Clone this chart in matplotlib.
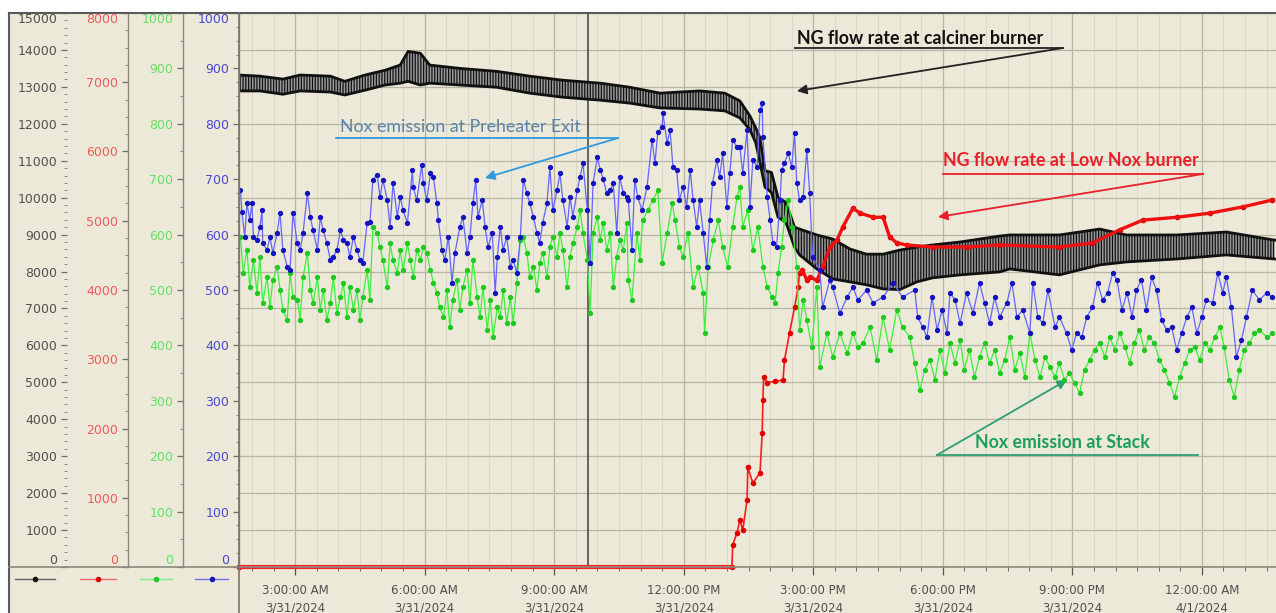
import matplotlib
matplotlib.use("Agg")
import matplotlib.pyplot as plt
from matplotlib.lines import Line2D
from matplotlib.patches import Rectangle
from matplotlib.ticker import MultipleLocator

plt.rcParams['font.family'] = ['DejaVu Sans']
plt.rcParams['hatch.linewidth'] = 0.9

# time axis is minutes since 3/31/2024 00:00
T_START = 102
T_END = 1543
CURSOR_T = 587

# NG flow rate at calciner burner, upper / lower envelope of the oscillating trace
calciner_t = [102, 131, 163, 187, 229, 249, 277, 305, 326, 337, 354, 367, 409, 460, 506, 552,
              604, 645, 687, 742, 777, 798, 812, 820, 826, 833, 842, 851, 862, 874, 881, 905,
              927, 951, 974, 997, 1020, 1044, 1066, 1104, 1159, 1173, 1242, 1298, 1335, 1405,
              1474, 1541]
calciner_hi = [13320, 13290, 13210, 13320, 13290, 13150, 13320, 13450, 13590, 13960, 13910, 13590,
               13500, 13420, 13290, 13180, 13100, 12990, 12830, 12890, 12830, 12620, 12210, 11890,
               11620, 10730, 10680, 10010, 9870, 9200, 9150, 8990, 8880, 8610, 8470, 8470, 8580,
               8660, 8720, 8800, 8960, 8990, 8990, 9150, 8990, 8990, 9070, 8850]
calciner_lo = [12890, 12890, 12800, 12890, 12860, 12780, 12910, 13050, 13100, 13150, 13050, 13100,
               13050, 12990, 12830, 12720, 12640, 12560, 12430, 12400, 12350, 12160, 11840, 11490,
               10950, 10280, 10140, 9470, 9330, 8660, 8450, 8070, 7800, 7720, 7640, 7530, 7510,
               7720, 7830, 7910, 7990, 8070, 7910, 8180, 8260, 8340, 8450, 8340]

# NG flow rate at Low Nox burner
lownox_t = [102, 787, 788, 794, 798, 802, 808, 809, 816, 826, 829, 830, 831, 836, 847, 858, 860,
            867, 874, 879, 881, 885, 891, 895, 905, 913, 923, 933, 941, 955, 965, 983, 997, 1006,
            1016, 1030, 1066, 1113, 1159, 1242, 1288, 1326, 1358, 1405, 1451, 1497, 1538]
lownox_v = [0, 0, 320, 490, 680, 530, 970, 1440, 1210, 1360, 1930, 2410, 2740, 2660, 2680, 2700,
            2990, 3380, 3750, 4040, 4250, 4290, 4140, 4190, 4140, 4330, 4620, 4720, 4910, 5180,
            5110, 5050, 5050, 4770, 4680, 4650, 4620, 4620, 4650, 4620, 4680, 4870, 5010, 5050,
            5110, 5200, 5300]

# Nox emission at Preheater Exit
preheater_t = [104, 106, 110, 113, 117, 120, 122, 127, 131, 134, 135, 141, 145, 149, 155, 159,
               163, 169, 173, 177, 183, 187, 191, 197, 201, 205, 211, 215, 219, 224, 229, 233,
               238, 243, 247, 252, 256, 261, 266, 270, 274, 280, 284, 288, 294, 298, 302, 308,
               312, 316, 322, 326, 330, 336, 343, 344, 349, 356, 358, 363, 368, 372, 377, 379,
               384, 388, 393, 398, 402, 409, 413, 419, 423, 427, 431, 434, 440, 444, 448, 454,
               458, 461, 465, 469, 474, 479, 483, 488, 493, 497, 502, 506, 511, 516, 520, 524,
               530, 534, 538, 544, 548, 552, 558, 562, 566, 572, 576, 580, 586, 590, 594, 600,
               604, 608, 613, 618, 622, 627, 631, 636, 641, 643, 648, 652, 656, 662, 669, 676,
               680, 684, 690, 691, 697, 701, 705, 710, 714, 719, 724, 729, 733, 738, 742, 747,
               752, 756, 760, 766, 770, 774, 780, 784, 788, 794, 798, 802, 808, 812, 816, 822,
               826, 829, 830, 836, 840, 844, 849, 854, 856, 860, 865, 870, 874, 877, 881, 886,
               891, 895, 899, 909, 913, 923, 927, 937, 947, 955, 962, 974, 983, 997, 1011, 1024,
               1041, 1045, 1052, 1058, 1065, 1072, 1079, 1086, 1090, 1097, 1104, 1113, 1122, 1131,
               1138, 1145, 1152, 1159, 1169, 1176, 1183, 1191, 1201, 1205, 1212, 1219, 1226, 1236,
               1242, 1252, 1259, 1266, 1273, 1280, 1288, 1295, 1302, 1309, 1316, 1322, 1329, 1336,
               1343, 1349, 1356, 1363, 1370, 1377, 1384, 1391, 1398, 1405, 1412, 1419, 1426, 1433,
               1440, 1446, 1455, 1462, 1469, 1474, 1481, 1488, 1495, 1502, 1510, 1520, 1530, 1538]
preheater_v = [680, 641, 596, 657, 626, 657, 596, 590, 614, 644, 585, 572, 596, 567, 603, 639,
               572, 542, 536, 639, 585, 572, 603, 675, 632, 608, 572, 632, 608, 585, 554, 560,
               572, 608, 590, 585, 560, 596, 572, 554, 549, 621, 623, 699, 708, 668, 699, 662,
               614, 693, 632, 668, 644, 621, 717, 686, 662, 726, 693, 662, 711, 704, 657, 626,
               572, 554, 596, 513, 567, 614, 632, 567, 596, 657, 699, 632, 662, 614, 578, 603,
               495, 560, 614, 572, 596, 542, 554, 531, 596, 699, 675, 657, 632, 603, 585, 621,
               657, 722, 644, 680, 711, 662, 614, 668, 632, 680, 704, 729, 644, 549, 693, 740,
               717, 700, 675, 680, 693, 603, 704, 675, 668, 662, 572, 699, 668, 644, 686, 771,
               729, 785, 794, 819, 765, 789, 722, 717, 662, 686, 650, 717, 662, 614, 662, 603,
               542, 626, 693, 735, 704, 747, 650, 711, 771, 758, 758, 711, 789, 650, 735, 722,
               825, 838, 776, 668, 626, 585, 578, 662, 717, 729, 747, 722, 783, 693, 662, 668,
               753, 675, 560, 536, 469, 518, 505, 458, 487, 505, 482, 500, 477, 487, 513, 487,
               500, 451, 433, 415, 487, 428, 464, 422, 495, 482, 440, 495, 458, 513,
               477, 440, 487, 451, 477, 513, 451, 464, 422, 513, 451, 440, 500, 433,
               451, 422, 392, 422, 415, 451, 469, 513, 482, 495, 531, 518, 464, 495,
               451, 500, 518, 464, 523, 500, 446, 428, 433, 392, 422, 451, 469, 422,
               451, 482, 477, 531, 495, 523, 469, 379, 410, 451, 500, 482, 495, 487]

# Nox emission at Stack
stack_t = [104, 108, 113, 117, 122, 127, 131, 135, 141, 145, 149, 155, 159, 163, 169, 173, 177,
           183, 187, 191, 197, 201, 205, 211, 215, 219, 224, 229, 233, 238, 243, 247, 252, 256,
           261, 266, 270, 274, 280, 284, 288, 294, 298, 302, 308, 312, 316, 322, 326, 330, 336,
           340, 344, 349, 354, 358, 363, 368, 372, 377, 381, 386, 391, 395, 399, 405, 409, 413,
           419, 423, 427, 433, 437, 441, 447, 451, 455, 461, 465, 469, 474, 479, 483, 488, 493,
           497, 502, 506, 511, 516, 520, 524, 530, 534, 538, 544, 548, 552, 558, 562, 566, 572,
           576, 580, 586, 590, 594, 600, 604, 608, 613, 618, 622, 627, 631, 636, 641, 643, 648,
           655, 659, 663, 670, 677, 684, 690, 697, 704, 708, 714, 719, 726, 733, 740, 747, 749,
           754, 761, 768, 774, 781, 788, 794, 798, 802, 809, 816, 823, 830, 836, 843, 847, 851,
           856, 860, 865, 871, 877, 881, 886, 891, 898, 905, 909, 919, 927, 937, 947, 955, 962,
           969, 979, 988, 997, 1006, 1016, 1024, 1034, 1041, 1048, 1055, 1062, 1069, 1076, 1083,
           1090, 1097, 1104, 1110, 1117, 1124, 1131, 1138, 1145, 1152, 1159, 1166, 1173, 1180,
           1187, 1194, 1201, 1208, 1215, 1222, 1229, 1236, 1242, 1249, 1256, 1263, 1270, 1277,
           1284, 1291, 1298, 1305, 1312, 1319, 1326, 1333, 1340, 1346, 1353, 1360, 1367, 1374,
           1381, 1388, 1395, 1402, 1409, 1416, 1423, 1430, 1437, 1444, 1451, 1458, 1465, 1471,
           1478, 1485, 1492, 1499, 1506, 1513, 1520, 1530, 1538]
stack_v = [596, 531, 572, 505, 554, 495, 560, 477, 523, 469, 518, 542, 500, 464, 446, 531, 487,
           482, 446, 523, 567, 500, 477, 523, 464, 500, 446, 477, 523, 458, 487, 513, 451, 505,
           464, 500, 446, 487, 536, 482, 614, 603, 578, 554, 505, 585, 554, 531, 572, 536, 585,
           554, 523, 572, 554, 578, 567, 536, 513, 495, 469, 451, 500, 433, 482, 518, 464, 505,
           536, 477, 554, 487, 451, 505, 428, 482, 415, 469, 451, 500, 440, 487, 440, 513, 590,
           596, 567, 523, 542, 500, 549, 567, 523, 578, 596, 560, 603, 572, 505, 560, 585, 614,
           644, 603, 554, 458, 603, 632, 590, 621, 572, 603, 505, 560, 590, 572, 621, 518, 482,
           603, 554, 626, 644, 662, 680, 549, 603, 657, 626, 578, 560, 603, 505, 542, 495, 422,
           542, 590, 626, 578, 542, 614, 668, 686, 614, 644, 572, 614, 542, 505, 487, 477, 531,
           578, 626, 662, 614, 542, 428, 482, 446, 397, 505, 361, 422, 379, 422, 386, 422, 397,
           404, 433, 374, 451, 392, 464, 433, 415, 368, 319, 356, 374, 338, 392, 350,
           404, 368, 410, 356, 392, 343, 379, 404, 368, 392, 350, 374, 415, 356,
           386, 343, 422, 374, 343, 379, 361, 343, 368, 338, 350, 332, 314, 356,
           374, 392, 404, 379, 415, 392, 422, 397, 368, 404, 428, 392, 415, 404,
           374, 356, 332, 307, 343, 368, 392, 397, 374, 404, 392, 415, 433, 397,
           338, 307, 356, 392, 404, 422, 428, 415, 422]

major_times = [180, 360, 540, 720, 900, 1080, 1260, 1440]

BG = '#ECE9D8'
W, H = 1276, 613


def fx(x):
    return x / W


def fy(y):
    return 1 - y / H


def clock_label(m):
    hour = (m // 60) % 24
    h12 = hour % 12 or 12
    ampm = 'AM' if hour < 12 else 'PM'
    date = '3/31/2024' if m < 1440 else '4/1/2024'
    return f"{h12}:{m % 60:02d}:00 {ampm}\n{date}"


fig = plt.figure(figsize=(W / 100, H / 100), dpi=100, facecolor='white')
fig.patches.append(Rectangle((fx(9), 0), 1 - fx(9), fy(13), transform=fig.transFigure,
                             facecolor=BG, edgecolor='none', zorder=-5))

ax = fig.add_axes([fx(239), fy(567), fx(1276) - fx(239), fy(13) - fy(567)])
ax.set_facecolor(BG)
ax.set_xlim(T_START, T_END)
ax.set_ylim(0, 15000)

ax_red = ax.twinx()
ax_green = ax.twinx()
ax_blue = ax.twinx()

axis_specs = [
    (ax, 0, 15000, 1000, 200, '#505050', (67 - 239) / 1037),
    (ax_red, 0, 8000, 1000, 250, '#f05a5a', (128 - 239) / 1037),
    (ax_green, 0, 1000, 100, 50, '#66e066', (183 - 239) / 1037),
    (ax_blue, 0, 1000, 100, 25, '#4848d0', 0.0),
]
for a, lo, hi, step, minor, col, pos in axis_specs:
    a.set_ylim(lo, hi)
    a.set_yticks(range(lo, hi + 1, step))
    a.yaxis.set_minor_locator(MultipleLocator(minor))
    a.yaxis.set_ticks_position('left')
    a.yaxis.set_label_position('left')
    for s in a.spines.values():
        s.set_visible(False)
    a.spines['left'].set_position(('axes', pos))
    if a is not ax:
        a.spines['left'].set_visible(True)
        a.spines['left'].set_color('#8c897c')
        a.spines['left'].set_linewidth(1.0)
    a.tick_params(axis='y', which='major', direction='out', length=4.5, width=0.9,
                  color='#707070', labelcolor=col, labelsize=9, pad=2.5)
    a.tick_params(axis='y', which='minor', direction='out', length=2.2, width=0.7,
                  color='#8a8a8a')
    labels = a.yaxis.get_majorticklabels()
    labels[0].set_va('bottom')
    labels[-1].set_va('top')

# grid and time ticks on the base axes
ax.set_xticks(major_times)
ax.xaxis.set_minor_locator(MultipleLocator(30))
ax.tick_params(axis='x', which='major', direction='out', length=6, width=0.9, color='#555555',
               labelbottom=False)
ax.tick_params(axis='x', which='minor', direction='out', length=3, width=0.7, color='#707070')
ax.grid(which='major', color='#b9b5a3', linewidth=0.9)
ax.grid(which='minor', axis='x', color='#dad6c5', linewidth=0.6)
ax.set_axisbelow(True)
for m in major_times:
    ax.text(m, -0.031, clock_label(m), transform=ax.get_xaxis_transform(), ha='center',
            va='top', fontsize=8.5, color='#505050', linespacing=1.4)

ax.axvline(CURSOR_T, color='#4d4d4d', lw=1.2, zorder=1.5)

# calciner burner band
ax.fill_between(calciner_t, calciner_lo, calciner_hi, facecolor='#9a9a9a', edgecolor='#111111',
                hatch='||||||', linewidth=0, zorder=2)
ax.plot(calciner_t, calciner_hi, color='#111111', lw=2.0, zorder=3)
ax.plot(calciner_t, calciner_lo, color='#111111', lw=2.0, zorder=3)

ax_red.plot(lownox_t, lownox_v, color='#ff1a1a', lw=1.2, marker='o', ms=3,
            mec='#e00000', mfc='#e00000', clip_on=False)
ax_red.plot(lownox_t[:2], lownox_v[:2], color='#ff2020', lw=3, clip_on=False)
i_flat = lownox_t.index(881)
ax_red.plot(lownox_t[i_flat:], lownox_v[i_flat:], color='#f01010', lw=2.4,
            solid_joinstyle='round')

ax_green.plot(stack_t, stack_v, color='#3cf03c', lw=0.9, marker='o', ms=2.8,
              mec='#20c820', mfc='#20c820')
ax_blue.plot(preheater_t, preheater_v, color='#6464ff', lw=0.9, marker='o', ms=2.8,
             mec='#1414c0', mfc='#1414c0')

# frame lines
fig.add_artist(Line2D([fx(9), 1], [fy(13), fy(13)], color='#5a5a5a', lw=1.5))
fig.add_artist(Line2D([fx(9), fx(9)], [0, fy(13)], color='#5a5a5a', lw=1.5))
fig.add_artist(Line2D([fx(9), 1], [fy(567), fy(567)], color='#8c897c', lw=1.2))
fig.add_artist(Line2D([fx(239), fx(239)], [0, fy(13)], color='#77746a', lw=1.2))

# legend swatches under the scales
for x0, x1, lc, mc in [(15, 55, '#666666', '#111111'), (80, 116, '#f07070', '#e00000'),
                       (140, 172, '#7cf07c', '#20c820'), (195, 228, '#7070f0', '#1414c0')]:
    fig.add_artist(Line2D([fx(x0), fx(x1)], [fy(579), fy(579)], color=lc, lw=1))
    fig.add_artist(Line2D([fx((x0 + x1) / 2)], [fy(579)], color=mc, marker='o', ms=3))


def callout(text, tx, ty, ul, arrow, tcol, lcol, bold=True):
    fig.text(fx(tx), fy(ty), text, ha='left', va='center', fontsize=12.8, color=tcol,
             family=['Lato', 'DejaVu Sans'], fontweight='bold' if bold else 'normal')
    (ux0, ux1, uy) = ul
    fig.add_artist(Line2D([fx(ux0), fx(ux1)], [fy(uy), fy(uy)], color=lcol, lw=1.3))
    (ax0, ay0), (ax1, ay1) = arrow
    ax.annotate('', xy=(ax1, H - ay1), xytext=(ax0, H - ay0), xycoords='figure pixels',
                textcoords='figure pixels', annotation_clip=False,
                arrowprops=dict(arrowstyle='-|>', color=lcol, lw=1.3, mutation_scale=14,
                                shrinkA=0, shrinkB=0))


callout('NG flow rate at calciner burner', 797, 38, (795, 1063, 48),
        ((1063, 48), (797, 91)), '#111111', '#222222')
callout('Nox emission at Preheater Exit', 340, 127, (336, 618, 138),
        ((618, 138), (485, 178)), '#5b83ad', '#2e9be0', bold=False)
callout('NG flow rate at Low Nox burner', 943, 161, (943, 1203, 174),
        ((1203, 174), (938, 217)), '#e8202a', '#e8202a')
callout('Nox emission at Stack', 975, 442, (937, 1198, 455),
        ((937, 455), (1067, 380)), '#1b9e5e', '#2ca070')

fig.savefig('out.png', dpi=100, facecolor='white')
